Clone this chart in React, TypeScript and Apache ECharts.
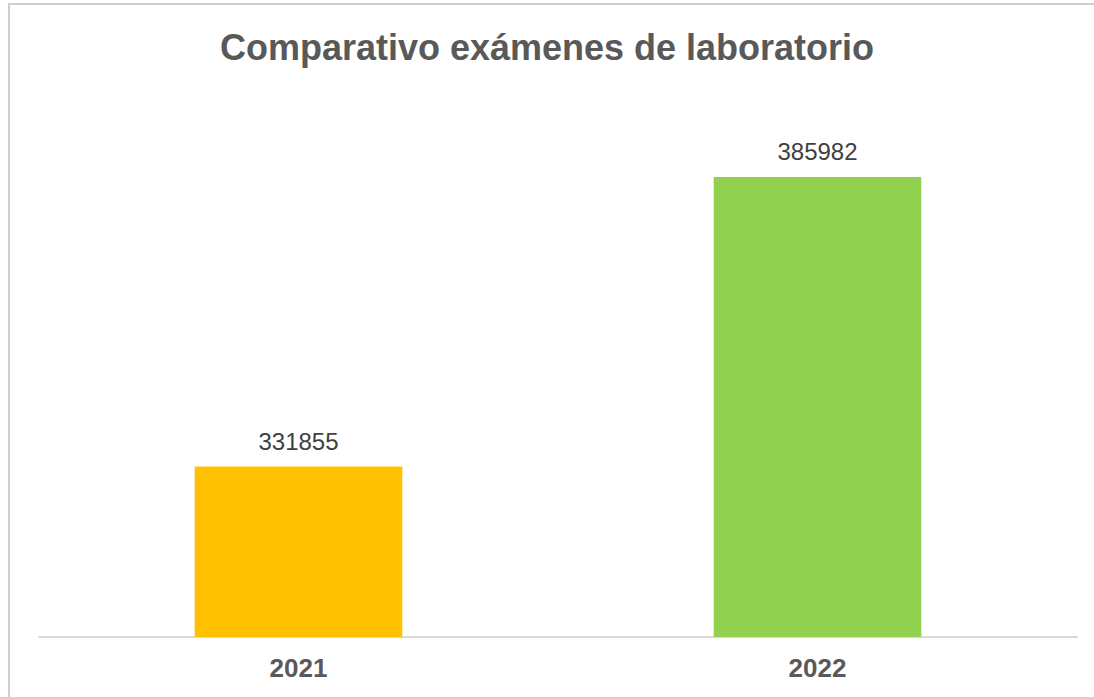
import React, { useEffect, useRef } from "react";
import * as echarts from "echarts";

const categories = ["2021", "2022"];
const values = [331855, 385982];
const barColors = ["#FFC000", "#92D050"];
const titleText = "Comparativo exámenes de laboratorio";

const FONT = "'Liberation Sans', Arial, sans-serif";

export default function App() {
  const ref = useRef<HTMLDivElement>(null);
  useEffect(() => {
    if (!ref.current) return;
    const chart = echarts.init(ref.current, undefined, { renderer: "svg" });
    chart.setOption({
      animation: false,
      backgroundColor: "#ffffff",
      title: {
        text: titleText,
        left: "center",
        top: 24,
        textStyle: {
          fontFamily: FONT,
          fontSize: 36,
          fontWeight: "bold",
          color: "#595959",
        },
      },
      graphic: [
        {
          type: "rect",
          shape: { x: 9, y: 4, width: 1200, height: 800 },
          style: { fill: "none", stroke: "#CFCFCF", lineWidth: 2 },
          silent: true,
          z: 100,
        },
      ],
      grid: { left: 39, right: 17, top: 102, bottom: 60 },
      xAxis: {
        type: "category",
        data: categories,
        axisTick: { show: false },
        axisLine: { lineStyle: { color: "#D9D9D9", width: 2 } },
        axisLabel: {
          fontFamily: FONT,
          fontSize: 26,
          fontWeight: "bold",
          color: "#595959",
          margin: 18,
        },
      },
      yAxis: {
        type: "value",
        min: 300000,
        max: 400000,
        show: false,
        splitLine: { show: false },
      },
      series: [
        {
          type: "bar",
          barWidth: "40%",
          data: values.map((v, i) => ({ value: v, itemStyle: { color: barColors[i] } })),
          label: {
            show: true,
            position: "top",
            distance: 13,
            fontFamily: FONT,
            fontSize: 24,
            color: "#404040",
          },
        },
      ],
    });
    return () => chart.dispose();
  }, []);
  return (
    <div
      ref={ref}
      style={{ position: "fixed", left: 0, top: 0, width: 1094, height: 697 }}
    />
  );
}
